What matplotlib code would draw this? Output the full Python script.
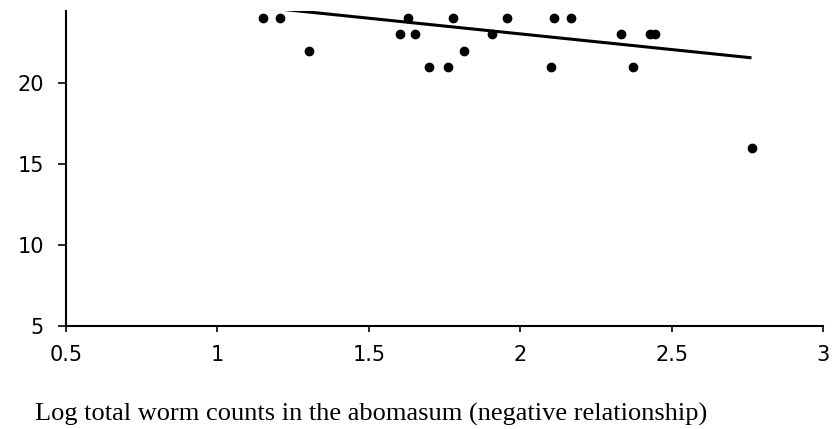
import matplotlib.pyplot as plt

# data
worm_x = [1.15, 1.206, 1.629, 1.777, 1.955, 2.111, 2.167,
          1.602, 1.652, 1.906, 2.332, 2.43, 2.445,
          1.302, 1.814,
          1.70, 1.763, 2.103, 2.372,
          2.764]
score_y = [24, 24, 24, 24, 24, 24, 24,
           23, 23, 23, 23, 23, 23,
           22, 22,
           21, 21, 21, 21,
           16]
trend_x = [1.15, 2.764]
trend_y = [24.68, 21.56]
xticks = [0.5, 1, 1.5, 2, 2.5, 3]
yticks = [5, 10, 15, 20]


def graph():
    fig = plt.figure(figsize=(8.39, 4.29), dpi=100)
    ax = fig.add_axes([66 / 839, 1 - 326 / 429, (823 - 66) / 839, (326 - 11) / 429])

    ax.plot(trend_x, trend_y, color="black", linewidth=2.2, solid_capstyle="butt")
    ax.plot(worm_x, score_y, "o", color="black", markersize=6, clip_on=False)

    ax.set_xlim(0.5, 3)
    ax.set_ylim(5, 24.45)
    ax.set_xticks(xticks)
    ax.set_xticklabels(["0.5", "1", "1.5", "2", "2.5", "3"])
    ax.set_yticks(yticks)

    for side in ["top", "right"]:
        ax.spines[side].set_visible(False)
    for side in ["left", "bottom"]:
        ax.spines[side].set_linewidth(1.5)
    ax.tick_params(direction="out", width=1.2, labelsize=15)
    ax.tick_params(axis="x", length=4.5, pad=9)
    ax.tick_params(axis="y", length=5.8, pad=10)
    for lab in ax.get_xticklabels() + ax.get_yticklabels():
        lab.set_family("DejaVu Sans")

    # axis caption sits well below the plot, left aligned
    fig.text(35 / 839, 1 - 421 / 429,
             "Log total worm counts in the abomasum (negative relationship)",
             family="Liberation Serif", fontsize=19, va="baseline", ha="left")

    fig.savefig("out.png", dpi=100, facecolor="white")


if __name__ == '__main__':
    graph()
